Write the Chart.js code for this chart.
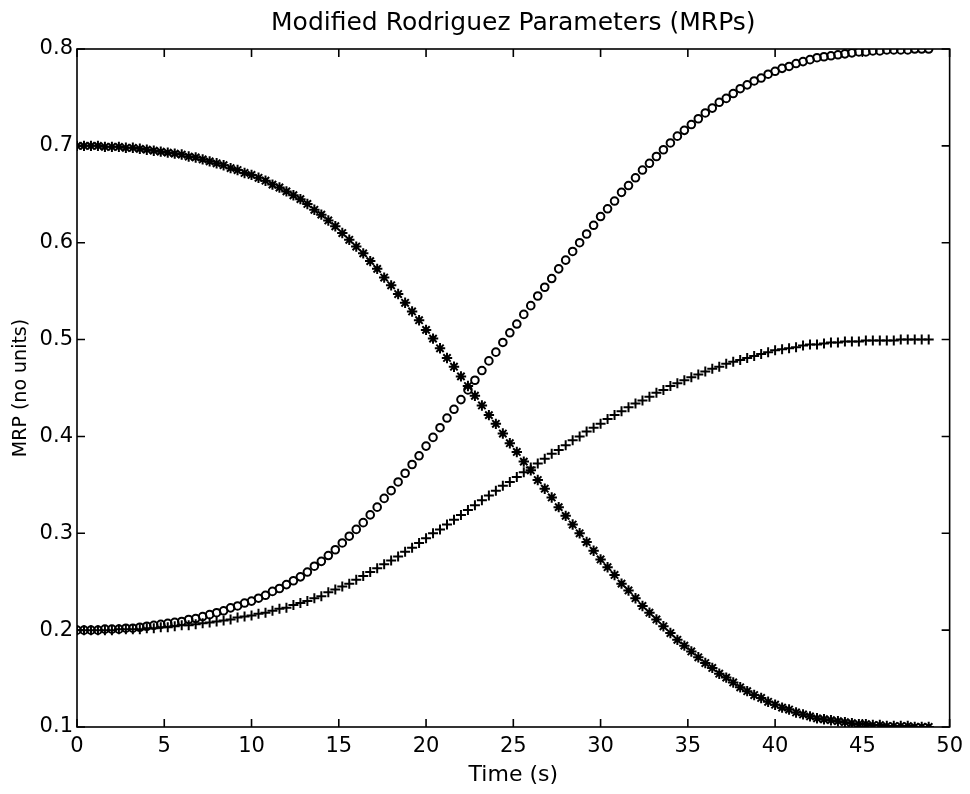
<!DOCTYPE html>
<html>
<head>
<meta charset="utf-8">
<title>Modified Rodriguez Parameters (MRPs)</title>
<script src="https://cdn.jsdelivr.net/npm/chart.js@4.4.1/dist/chart.umd.min.js"></script>
<style>
    html, body { margin: 0; padding: 0; background: #fff; }
    #mrp_canvas { display: block; }
</style>
</head>
<body>
<canvas id="mrp_canvas" width="970" height="794"></canvas>
<script>
// time stamps (s)
const times = [
    0, 0.4, 0.8, 1.2, 1.6, 2, 2.4, 2.8, 3.2, 3.6,
    4, 4.4, 4.8, 5.2, 5.6, 6, 6.4, 6.8, 7.2, 7.6,
    8, 8.4, 8.8, 9.2, 9.6, 10, 10.4, 10.8, 11.2, 11.6,
    12, 12.4, 12.8, 13.2, 13.6, 14, 14.4, 14.8, 15.2, 15.6,
    16, 16.4, 16.8, 17.2, 17.6, 18, 18.4, 18.8, 19.2, 19.6,
    20, 20.4, 20.8, 21.2, 21.6, 22, 22.4, 22.8, 23.2, 23.6,
    24, 24.4, 24.8, 25.2, 25.6, 26, 26.4, 26.8, 27.2, 27.6,
    28, 28.4, 28.8, 29.2, 29.6, 30, 30.4, 30.8, 31.2, 31.6,
    32, 32.4, 32.8, 33.2, 33.6, 34, 34.4, 34.8, 35.2, 35.6,
    36, 36.4, 36.8, 37.2, 37.6, 38, 38.4, 38.8, 39.2, 39.6,
    40, 40.4, 40.8, 41.2, 41.6, 42, 42.4, 42.8, 43.2, 43.6,
    44, 44.4, 44.8, 45.2, 45.6, 46, 46.4, 46.8, 47.2, 47.6,
    48, 48.4, 48.8
]

// circles
const mrpCircle = [
    0.200, 0.200, 0.200, 0.200, 0.201, 0.201, 0.201, 0.202, 0.202, 0.203,
    0.204, 0.205, 0.206, 0.207, 0.208, 0.209, 0.211, 0.212, 0.214, 0.216,
    0.218, 0.220, 0.223, 0.225, 0.228, 0.230, 0.233, 0.236, 0.240, 0.243,
    0.247, 0.251, 0.255, 0.260, 0.266, 0.271, 0.277, 0.283, 0.290, 0.297,
    0.304, 0.311, 0.319, 0.327, 0.336, 0.344, 0.353, 0.362, 0.371, 0.380,
    0.390, 0.399, 0.409, 0.419, 0.428, 0.438, 0.448, 0.458, 0.468, 0.478,
    0.487, 0.497, 0.507, 0.516, 0.526, 0.535, 0.545, 0.554, 0.563, 0.573,
    0.582, 0.591, 0.600, 0.609, 0.618, 0.627, 0.635, 0.643, 0.652, 0.659,
    0.667, 0.675, 0.682, 0.689, 0.696, 0.703, 0.710, 0.716, 0.722, 0.728,
    0.734, 0.739, 0.745, 0.749, 0.754, 0.759, 0.763, 0.767, 0.770, 0.774,
    0.777, 0.780, 0.782, 0.785, 0.787, 0.789, 0.791, 0.792, 0.793, 0.794,
    0.795, 0.796, 0.797, 0.797, 0.798, 0.798, 0.799, 0.799, 0.799, 0.799,
    0.800, 0.800, 0.800
]

// plus signs
const mrpPlus = [
    0.200, 0.200, 0.200, 0.200, 0.200, 0.200, 0.201, 0.201, 0.201, 0.201,
    0.202, 0.202, 0.203, 0.203, 0.204, 0.205, 0.205, 0.206, 0.207, 0.208,
    0.209, 0.210, 0.211, 0.213, 0.214, 0.215, 0.217, 0.218, 0.220, 0.222,
    0.223, 0.226, 0.228, 0.230, 0.233, 0.235, 0.239, 0.242, 0.245, 0.248,
    0.252, 0.256, 0.260, 0.264, 0.268, 0.272, 0.276, 0.281, 0.285, 0.290,
    0.295, 0.300, 0.304, 0.309, 0.314, 0.319, 0.324, 0.329, 0.334, 0.339,
    0.344, 0.349, 0.353, 0.358, 0.363, 0.368, 0.372, 0.377, 0.382, 0.386,
    0.391, 0.396, 0.400, 0.405, 0.409, 0.413, 0.418, 0.422, 0.426, 0.430,
    0.434, 0.437, 0.441, 0.445, 0.448, 0.452, 0.455, 0.458, 0.461, 0.464,
    0.467, 0.470, 0.472, 0.475, 0.477, 0.479, 0.481, 0.483, 0.485, 0.487,
    0.489, 0.490, 0.491, 0.492, 0.494, 0.495, 0.495, 0.496, 0.497, 0.497,
    0.498, 0.498, 0.498, 0.499, 0.499, 0.499, 0.499, 0.499, 0.500, 0.500,
    0.500, 0.500, 0.500
]

// asterisks
const mrpStar = [
    0.700, 0.700, 0.700, 0.700, 0.699, 0.699, 0.699, 0.698, 0.698, 0.697,
    0.696, 0.695, 0.694, 0.693, 0.692, 0.691, 0.689, 0.688, 0.686, 0.684,
    0.682, 0.680, 0.677, 0.675, 0.672, 0.670, 0.667, 0.664, 0.660, 0.657,
    0.653, 0.649, 0.645, 0.640, 0.634, 0.629, 0.623, 0.617, 0.610, 0.603,
    0.596, 0.589, 0.581, 0.573, 0.564, 0.556, 0.547, 0.538, 0.529, 0.520,
    0.510, 0.501, 0.491, 0.481, 0.472, 0.462, 0.452, 0.442, 0.432, 0.422,
    0.413, 0.403, 0.393, 0.384, 0.374, 0.365, 0.355, 0.346, 0.337, 0.327,
    0.318, 0.309, 0.300, 0.291, 0.282, 0.273, 0.265, 0.257, 0.248, 0.241,
    0.233, 0.225, 0.218, 0.211, 0.204, 0.197, 0.190, 0.184, 0.178, 0.172,
    0.166, 0.161, 0.155, 0.151, 0.146, 0.141, 0.137, 0.133, 0.130, 0.126,
    0.123, 0.120, 0.118, 0.115, 0.113, 0.111, 0.109, 0.108, 0.107, 0.106,
    0.105, 0.104, 0.103, 0.103, 0.102, 0.102, 0.101, 0.101, 0.101, 0.101,
    0.100, 0.100, 0.100
]

const xTicks = [0, 5, 10, 15, 20, 25, 30, 35, 40, 45, 50]
const yTicks = [0.1, 0.2, 0.3, 0.4, 0.5, 0.6, 0.7, 0.8]

const fontName = "'DejaVu Sans', Verdana, sans-serif"

function toPoints(ys) {
    return times.map((t, i) => ({ x: t, y: ys[i] }))
}

// matlab style box with inward ticks on all four sides
const boxTicks = {
    id: 'boxTicks',
    afterDraw(chart) {
        const ctx = chart.ctx
        const a = chart.chartArea
        const xs = chart.scales.x
        const ys = chart.scales.y
        const len = 8
        ctx.save()
        ctx.strokeStyle = '#000'
        ctx.lineWidth = 1.6
        ctx.strokeRect(a.left, a.top, a.right - a.left, a.bottom - a.top)
        ctx.beginPath()
        xTicks.forEach(v => {
            const px = xs.getPixelForValue(v)
            ctx.moveTo(px, a.bottom)
            ctx.lineTo(px, a.bottom - len)
            ctx.moveTo(px, a.top)
            ctx.lineTo(px, a.top + len)
        })
        yTicks.forEach(v => {
            const py = ys.getPixelForValue(v)
            ctx.moveTo(a.left, py)
            ctx.lineTo(a.left + len, py)
            ctx.moveTo(a.right, py)
            ctx.lineTo(a.right - len, py)
        })
        ctx.stroke()
        ctx.restore()
    }
}

const chart = new Chart(document.getElementById('mrp_canvas'), {
    type: 'scatter',
    data: {
        datasets: [{
            label: 'circles',
            data: toPoints(mrpCircle),
            pointStyle: 'circle',
            pointRadius: 3.8,
            borderWidth: 2,
            borderColor: '#000',
            backgroundColor: 'rgba(0,0,0,0)',
            showLine: false
        }, {
            label: 'plus',
            data: toPoints(mrpPlus),
            pointStyle: 'cross',
            pointRadius: 5,
            borderWidth: 2,
            borderColor: '#000',
            backgroundColor: '#000',
            showLine: false
        }, {
            label: 'star',
            data: toPoints(mrpStar),
            pointStyle: 'star',
            pointRadius: 5.2,
            borderWidth: 2,
            borderColor: '#000',
            backgroundColor: '#000',
            showLine: false
        }]
    },
    options: {
        responsive: false,
        animation: false,
        events: [],
        layout: {
            padding: { left: 0, right: 19, top: 0, bottom: 0 }
        },
        plugins: {
            legend: { display: false },
            tooltip: { enabled: false },
            title: {
                display: true,
                fullSize: false,
                text: 'Modified Rodriguez Parameters (MRPs)',
                color: '#000',
                font: { family: fontName, size: 25, weight: 'normal' },
                padding: { top: 8, bottom: 11 }
            }
        },
        scales: {
            x: {
                type: 'linear',
                min: 0,
                max: 50,
                afterBuildTicks: s => { s.ticks = xTicks.map(v => ({ value: v })) },
                afterFit: s => { s.height = 67 },
                grid: { display: false, drawTicks: false },
                border: { display: false },
                ticks: {
                    color: '#000',
                    padding: 7,
                    maxRotation: 0,
                    font: { family: fontName, size: 21 },
                    callback: v => String(v)
                },
                title: {
                    display: true,
                    text: 'Time (s)',
                    color: '#000',
                    font: { family: fontName, size: 22 },
                    padding: { top: 6, bottom: 6 }
                }
            },
            y: {
                type: 'linear',
                min: 0.1,
                max: 0.8,
                afterBuildTicks: s => { s.ticks = yTicks.map(v => ({ value: v })) },
                afterFit: s => { s.width = 77 },
                grid: { display: false, drawTicks: false },
                border: { display: false },
                ticks: {
                    color: '#000',
                    padding: 4,
                    font: { family: fontName, size: 21 },
                    callback: v => Number(v).toFixed(1)
                },
                title: {
                    display: true,
                    text: 'MRP (no units)',
                    color: '#000',
                    font: { family: fontName, size: 19 },
                    padding: { top: 10, bottom: 10 }
                }
            }
        }
    },
    plugins: [boxTicks]
})
</script>
</body>
</html>
